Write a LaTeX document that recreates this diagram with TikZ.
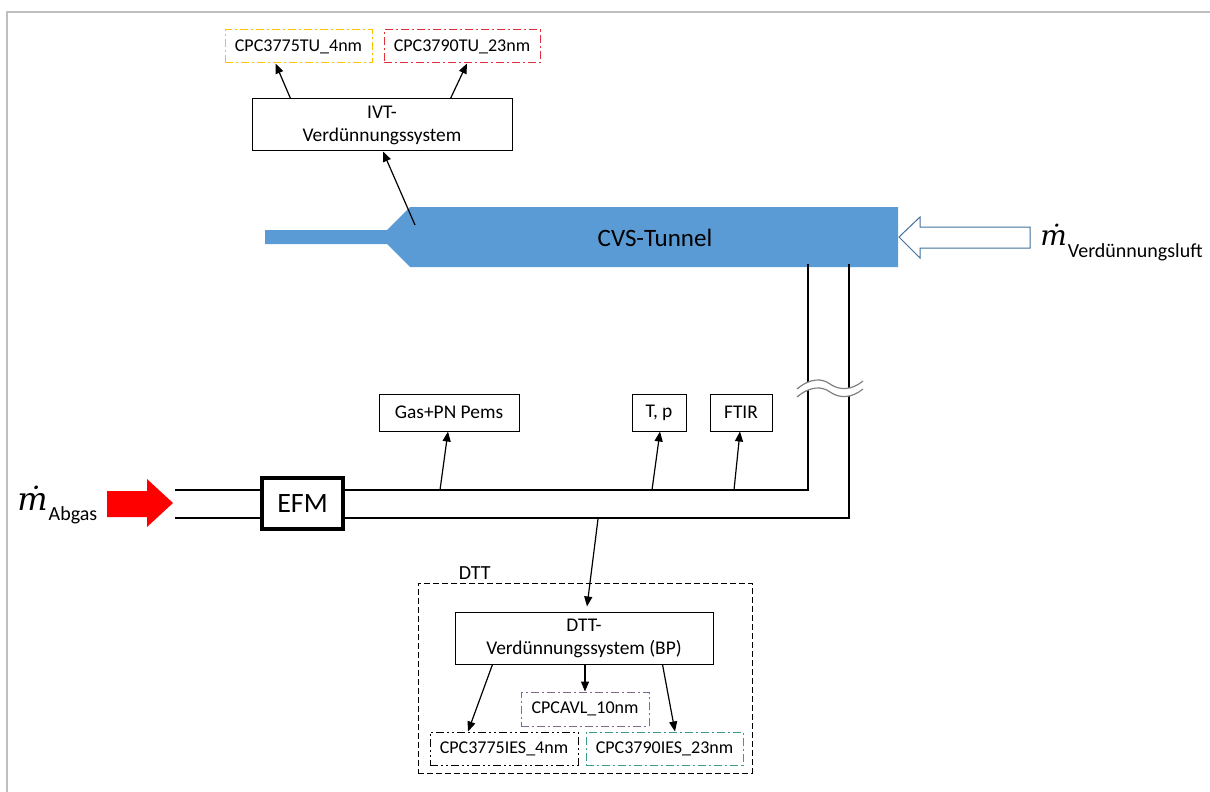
\documentclass[tikz,border=0pt]{standalone}
\usepackage{fontspec}
\setmainfont{Carlito}
\newfontfamily\mdotfont{DejaVu Serif}
\usetikzlibrary{arrows.meta,calc}
\definecolor{tunnelblue}{HTML}{5B9BD5}
\definecolor{arrowline}{HTML}{41719C}
\definecolor{cpcorange}{HTML}{FFC000}
\definecolor{cpcred}{HTML}{E0303A}
\definecolor{cpcpurple}{HTML}{7E6A8E}
\definecolor{cpcteal}{HTML}{3C9C8C}
\definecolor{framegray}{HTML}{BFBFBF}
\begin{document}
\begin{tikzpicture}[x=0.5pt,y=-0.5pt,
  box/.style={draw,line width=0.5pt,inner sep=0pt,align=center,font=\fontsize{9.7}{11.5}\selectfont},
  cpc/.style={draw,inner sep=0pt,align=center,font=\fontsize{9}{11}\selectfont,line width=0.5pt},
  dashdotA/.style={dash pattern=on 4pt off 1.5pt on 1pt off 1.5pt},
  dashdotB/.style={dash pattern=on 4pt off 1.5pt on 1pt off 1.5pt on 1pt off 1.5pt},
  arr/.style={-{Triangle[length=5pt,width=4pt]},line width=0.6pt},
  pipe/.style={line width=0.7pt},
  wave/.style={draw=gray,line width=0.6pt}
]
\useasboundingbox (0,0) rectangle (1210,792);
% frame
\draw[framegray,line width=1pt] (7,792) -- (7,12) -- (1210,12);

% tunnel
\fill[tunnelblue] (265,230) -- (387,230) -- (410,207) -- (898,207) -- (898,267) -- (410,267) -- (387,244) -- (265,244) -- cycle;
\node[font=\fontsize{12.5}{14}\selectfont] (cvs) at (655,238) {CVS-Tunnel};

% dilution air arrow
\draw[arrowline,line width=0.5pt,fill=white] (899,237) -- (920,217) -- (920,227) -- (1030,227) -- (1030,248) -- (920,248) -- (920,258) -- cycle;
\node[anchor=base west,inner sep=0pt] (mverd) at (1040,245) {{\mdotfont\itshape\fontsize{14}{14}\selectfont ṁ}\kern0.5pt\raisebox{-6pt}{\fontsize{10}{12}\selectfont Verdünnungsluft}};

% exhaust arrow
\fill[red] (107,491) -- (147,491) -- (147,479) -- (173,503) -- (147,527) -- (147,517) -- (107,517) -- cycle;
\node[anchor=base west,inner sep=0pt] (mabg) at (17,510) {{\mdotfont\itshape\fontsize{16}{16}\selectfont ṁ}\kern0.5pt\raisebox{-5pt}{\fontsize{10}{12}\selectfont Abgas}};

% IVT part
\node[cpc,cpcorange,dashdotA,text=black,minimum width=73.5pt,minimum height=16.5pt] (c1) at (298.5,46.5) {CPC3775TU\_4nm};
\node[cpc,cpcred,dashdotA,text=black,minimum width=78pt,minimum height=16.5pt] (c2) at (462,46.5) {CPC3790TU\_23nm};
\node[box,minimum width=130pt,minimum height=26pt] (ivt) at (382,125) {IVT-\\Verdünnungssystem};
\draw[arr] ($(ivt.north west)+(39,0)$) -- ($(c1.south)+(-23,0)$);
\draw[arr] ($(ivt.north east)+(-62,0)$) -- ($(c2.south)+(5,0)$);
\coordinate (tap) at (415,225);
\draw[arr] (tap) -- ($(ivt.south)+(1,0)$);

% measurement boxes
\node[box,minimum width=70pt,minimum height=18.5pt] (gas) at (449,412.5) {Gas+PN Pems};
\node[box,minimum width=27pt,minimum height=18.5pt] (tp) at (659,412.5) {T, p};
\node[box,minimum width=31pt,minimum height=18.5pt] (ftir) at (741,412.5) {FTIR};

% EFM and pipes
\node[draw,line width=1.6pt,inner sep=0pt,minimum width=40.5pt,minimum height=25.5pt,font=\fontsize{14}{16}\selectfont] (efm) at (302.5,503.5) {EFM};
\coordinate (a1) at (175,490);
\coordinate (a2) at (175,518);
\coordinate (r1) at (808,490);
\coordinate (r2) at (849,518);
\draw[pipe] (a1) -- (a1 -| efm.west);
\draw[pipe] (a2) -- (a2 -| efm.west);
\draw[pipe] (a1 -| efm.east) -- (r1) -- (808,264);
\draw[pipe] (a2 -| efm.east) -- (r2) -- (849,264);

% break
\fill[white] (797,389) .. controls (810,378) and (822,378) .. (830,384) .. controls (840,391) and (852,390) .. (863,381)
  -- (863,389) .. controls (852,398) and (840,399) .. (830,392) .. controls (822,386) and (810,386) .. (797,397) -- cycle;
\draw[wave] (797,389) .. controls (810,378) and (822,378) .. (830,384) .. controls (840,391) and (852,390) .. (863,381);
\draw[wave] (797,397) .. controls (810,386) and (822,386) .. (830,392) .. controls (840,399) and (852,398) .. (863,389);

% measurement taps
\coordinate (g1) at (440,490);
\coordinate (g2) at (652,490);
\coordinate (g3) at (734,490);
\draw[arr] (g1) -- ($(gas.south)+(-1,0)$);
\draw[arr] (g2) -- ($(tp.south)+(1,0)$);
\draw[arr] (g3) -- ($(ftir.south)+(-1,0)$);

% DTT
\node[draw,dashed,dash pattern=on 3pt off 1.5pt,line width=0.5pt,minimum width=167pt,minimum height=95pt,inner sep=0pt] (dttbox) at (585,678) {};
\node[anchor=south west,inner sep=0pt,font=\fontsize{10}{12}\selectfont] (dttlab) at ($(dttbox.north west)+(41,-3)$) {DTT};
\node[box,minimum width=129pt,minimum height=26pt] (dttv) at (584,638) {DTT-\\Verdünnungssystem (BP)};
\coordinate (dtap) at (598,519);
\draw[arr] (dtap) -- ($(dttv.north)+(3,-5)$);
\node[cpc,cpcpurple,dashdotA,text=black,minimum width=64pt,minimum height=17pt] (avl) at (585,709) {CPCAVL\_10nm};
\node[cpc,black,dashdotB,minimum width=74pt,minimum height=16.5pt] (ies4) at (504,748.5) {CPC3775IES\_4nm};
\node[cpc,cpcteal,dashdotA,text=black,minimum width=78.5pt,minimum height=16.5pt] (ies23) at (664.5,748.5) {CPC3790IES\_23nm};
\draw[arr] ($(dttv.south west)+(38,0)$) -- ($(ies4.north)+(-36,0)$);
\draw[arr] ($(dttv.south)+(1,0)$) -- (avl.north);
\draw[arr] ($(dttv.south east)+(-51,0)$) -- ($(ies23.north)+(10.5,0)$);
\end{tikzpicture}
\end{document}
